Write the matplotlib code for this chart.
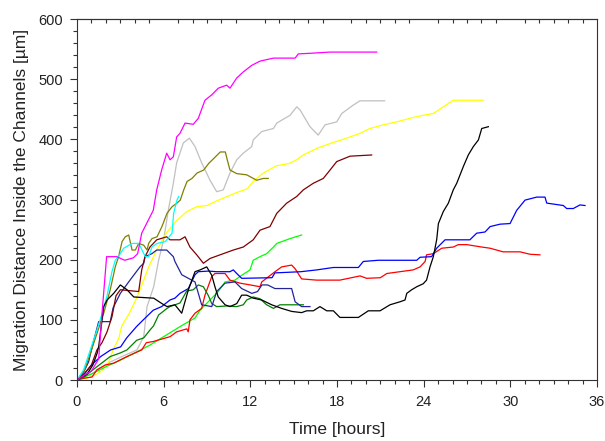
import matplotlib
matplotlib.use("Agg")
import matplotlib.pyplot as plt
from matplotlib.ticker import MultipleLocator, FixedLocator

plt.rcParams["font.family"] = ["Liberation Sans", "DejaVu Sans"]

# each track: time [h], distance [um]
magenta_t = [0, 0.5, 1.0, 1.5, 1.75, 2.05, 2.75, 3.3, 3.9, 4.2, 4.48, 5.28, 5.52, 5.86, 6.21, 6.44,
             6.67, 6.9, 7.13, 7.48, 8.05, 8.4, 8.86, 9.33, 9.78, 10.36, 10.59, 11.06, 11.51, 12.1,
             12.67, 13.6, 15.1, 15.32, 16.13, 17.5, 20.75]
magenta_v = [0, 8, 15, 35, 116, 205, 205, 199, 203, 210, 244, 282, 316, 349, 377, 366,
             371, 404, 410, 427, 425, 435, 465, 474, 485, 490, 485, 502, 512, 523,
             530, 535, 535, 542, 543, 545, 545]

silver_t = [0, 1.0, 2.3, 3.2, 4.15, 4.62, 4.85, 5.31, 5.65, 6.0, 6.32, 6.67, 6.9, 7.36, 7.78, 8.17,
            8.63, 9.21, 9.67, 10.13, 10.59, 11.06, 11.51, 12.1, 12.2, 12.79, 13.6, 13.83, 14.75,
            15.21, 15.44, 16.13, 16.7, 17.17, 17.98, 18.33, 19.13, 19.59, 21.3]
silver_v = [0, 10, 30, 40, 50, 72, 122, 155, 199, 233, 282, 327, 361, 394, 402, 388,
            361, 332, 313, 316, 344, 366, 377, 388, 399, 413, 418, 427, 440,
            454, 449, 421, 407, 424, 429, 443, 457, 464, 464]

yellow_t = [0, 1.0, 1.7, 2.2, 2.5, 2.9, 3.1, 3.6, 4.1, 4.6, 5.0, 5.5, 6.2, 6.9, 7.6, 8.3, 9.0, 9.7,
            10.4, 11.1, 11.8, 12.2, 12.9, 13.8, 14.7, 15.2, 15.67, 16.6, 17.52, 18.67, 19.59, 20.28,
            21.2, 22.13, 23.05, 23.97, 24.67, 25.36, 26.05, 28.13]
yellow_v = [0, 5, 15, 30, 50, 70, 90, 110, 135, 165, 190, 215, 245, 265, 280, 288, 290, 298,
            305, 312, 318, 330, 344, 356, 360, 366, 374, 385, 393, 402, 410, 418,
            424, 429, 435, 440, 443, 454, 465, 465]

maroon_t = [0, 0.5, 1.0, 1.38, 1.73, 2.08, 2.42, 2.7, 3.0, 4.27, 4.48, 4.71, 5.05, 5.52, 6.21, 6.44,
            7.13, 7.48, 7.82, 8.29, 8.75, 9.21, 9.9, 10.82, 11.51, 12.2, 12.67, 13.36, 13.83, 14.52,
            15.21, 15.67, 16.36, 17.05, 17.52, 17.98, 18.9, 20.4]
maroon_v = [0, 10, 25, 50, 62, 80, 105, 140, 150, 147, 183, 205, 221, 233, 238, 233,
            233, 238, 221, 208, 194, 202, 208, 216, 221, 233, 249, 255, 277, 294,
            305, 316, 327, 335, 349, 363, 372, 374]

olive_t = [0, 0.5, 0.92, 1.85, 2.3, 2.65, 2.88, 3.12, 3.34, 3.58, 3.81, 4.04, 4.27, 4.62, 4.85,
           4.96, 5.19, 5.54, 5.88, 6.23, 6.58, 6.92, 7.15, 7.39, 7.62, 7.96, 8.31, 8.77, 9.12,
           9.46, 9.92, 10.27, 10.38, 10.59, 11.06, 11.75, 12.44, 12.9, 13.24]
olive_v = [0, 15, 44, 111, 150, 188, 205, 230, 238, 241, 216, 216, 227, 224, 216,
           227, 235, 238, 255, 277, 288, 294, 299, 316, 330, 335, 344, 349, 360,
           368, 379, 379, 368, 349, 343, 341, 332, 335, 335]

cyan_t = [0, 0.46, 0.92, 1.38, 1.73, 2.08, 2.42, 2.65, 3.0, 3.23, 3.81, 4.27, 4.5, 4.73, 4.96,
          5.19, 5.54, 6.11, 6.58, 6.69, 6.92, 7.04]
cyan_v = [0, 17, 50, 83, 110, 140, 180, 199, 210, 219, 227, 227, 216, 205, 205,
          221, 227, 230, 244, 277, 299, 305]

lime_t = [0, 1.0, 2.0, 3.0, 4.0, 5.05, 6.2, 7.36, 8.17, 8.52, 9.21, 9.78, 10.25, 10.94, 11.28,
          11.98, 12.2, 12.67, 13.13, 13.6, 13.83, 14.75, 15.55]
lime_v = [0, 10, 22, 33, 45, 58, 75, 92, 103, 116, 133, 147, 163, 166, 172,
          183, 199, 205, 210, 221, 227, 235, 241]

red_t = [0, 0.5, 1.04, 1.38, 1.96, 2.54, 3.46, 4.48, 4.8, 5.28, 6.44, 6.9, 7.6, 7.7, 7.82, 8.17,
         8.63, 8.86, 9.33, 9.55, 10.25, 10.59, 11.28, 12.0, 12.67, 12.79, 13.71, 14.17, 14.86,
         15.1, 15.55, 16.6, 18.2, 19.6, 20.05, 21.0, 21.45, 22.36, 23.28, 23.75, 24.1, 24.2,
         24.67, 25.25, 26.05, 26.4, 26.98, 28.02, 28.6, 29.5, 30.67, 31.36, 32.05]
red_v = [0, 3, 5, 17, 25, 28, 39, 50, 62, 64, 72, 80, 85, 80, 100, 111,
         119, 141, 172, 177, 177, 166, 161, 158, 155, 163, 180, 188, 191,
         185, 168, 166, 166, 173, 169, 170, 177, 180, 183, 188, 197, 208,
         210, 219, 221, 225, 225, 221, 219, 213, 213, 209, 208]

blue_t = [0, 0.5, 1.0, 1.64, 2.33, 3.02, 3.44, 4.13, 4.59, 5.28, 5.86, 6.44, 6.78, 7.13, 7.71,
          8.17, 8.4, 9.09, 9.67, 10.59, 10.82, 11.06, 11.4, 13.5, 13.7, 15.5, 16.6, 17.75, 19.48,
          19.82, 20.86, 23.52, 23.75, 24.55, 24.9, 25.48, 27.2, 27.67, 28.25, 28.6, 29.29, 29.98,
          30.44, 31.02, 31.83, 32.4, 32.52, 33.67, 33.9, 34.36, 34.82, 35.17]
blue_v = [0, 10, 25, 39, 50, 55, 70, 89, 100, 116, 122, 133, 136, 144, 152,
          175, 180, 181, 180, 180, 183, 177, 169, 170, 178, 180, 183, 187, 187,
          197, 199, 199, 204, 205, 219, 233, 233, 244, 246, 255, 259, 260,
          282, 299, 304, 304, 294, 290, 285, 285, 291, 290]

navy_t = [0, 0.4, 0.8, 1.1, 1.5, 2.3, 2.5, 3.0, 3.67, 4.36, 4.62, 4.71, 5.19, 5.52, 6.21, 6.67,
          6.78, 7.25, 8.17, 8.63, 9.33, 9.67, 10.25, 10.94, 11.4, 12.1, 12.5, 12.8, 13.2, 13.7,
          14.86, 15.1, 15.55, 16.13]
navy_v = [0, 10, 30, 60, 97, 97, 120, 144, 166, 188, 194, 205, 210, 216, 216, 205,
          197, 175, 163, 125, 122, 147, 161, 163, 152, 144, 147, 158, 158, 152,
          152, 130, 122, 122]

dkgreen_t = [0, 0.5, 1.0, 2.3, 3.0, 3.46, 4.13, 4.62, 5.05, 5.3, 5.65, 6.23, 6.44, 7.13, 7.6,
             8.05, 8.4, 8.75, 9.1, 9.33, 9.67, 10.36, 11.06, 11.51, 11.75, 12.2, 12.67, 13.13,
             13.6, 14.05, 15.67]
dkgreen_v = [0, 5, 15, 39, 45, 50, 66, 70, 83, 90, 108, 119, 122, 128, 148,
             150, 158, 155, 140, 127, 122, 123, 122, 125, 133, 138, 135, 125,
             119, 125, 125]

black_t = [0, 0.7, 1.1, 1.4, 1.5, 1.85, 2.08, 2.54, 3.0, 3.46, 3.93, 5.31, 5.88, 6.23, 6.78, 7.25,
           7.71, 8.17, 8.52, 8.98, 9.33, 9.55, 9.78, 10.25, 10.59, 11.06, 11.4, 11.75, 12.2, 12.79,
           13.48, 14.17, 14.86, 15.55, 15.9, 16.36, 16.82, 17.29, 17.75, 18.2, 19.48, 20.17, 20.98,
           21.67, 22.36, 22.71, 22.83, 23.17, 23.52, 23.97, 24.2, 24.44, 24.67, 24.9, 25.02, 25.36,
           25.71, 26.05, 26.29, 26.75, 27.09, 27.44, 27.79, 28.02, 28.48]
black_v = [0, 10, 25, 45, 55, 122, 133, 144, 158, 150, 138, 136, 127, 122, 125, 111,
           150, 180, 183, 188, 174, 155, 138, 125, 122, 127, 141, 141, 136, 133,
           125, 119, 114, 112, 115, 115, 122, 115, 115, 104, 104, 115, 115,
           125, 130, 133, 144, 150, 155, 160, 166, 188, 205, 233, 260, 280,
           294, 316, 327, 355, 374, 388, 399, 418, 421]

tracks = [
    (silver_t, silver_v, "#c0c0c0"),
    (yellow_t, yellow_v, "#ffff00"),
    (lime_t, lime_v, "#00ff00"),
    (red_t, red_v, "#ff0000"),
    (blue_t, blue_v, "#0000ff"),
    (dkgreen_t, dkgreen_v, "#008000"),
    (navy_t, navy_v, "#24249a"),
    (maroon_t, maroon_v, "#800000"),
    (olive_t, olive_v, "#808000"),
    (cyan_t, cyan_v, "#00ffff"),
    (black_t, black_v, "#000000"),
    (magenta_t, magenta_v, "#ff00ff"),
]

fig = plt.figure(figsize=(6.05, 4.41), dpi=100)
ax = fig.add_axes([77 / 605, 61 / 441, 520 / 605, 361 / 441])

for t, v, c in tracks:
    ax.plot(t, v, color=c, lw=0.9)

ax.set_xlim(0, 36)
ax.set_ylim(0, 600)
ax.xaxis.set_major_locator(MultipleLocator(6))
ax.xaxis.set_minor_locator(MultipleLocator(1))
ax.yaxis.set_major_locator(MultipleLocator(100))
ax.yaxis.set_minor_locator(MultipleLocator(20))
ax.tick_params(which="major", direction="out", length=5, width=0.8, colors="#333333",
               labelsize=10.5, labelcolor="#222222")
ax.tick_params(which="minor", direction="out", length=3, width=0.8, colors="#333333")
ax.tick_params(axis="x", which="major", pad=6)
ax.tick_params(axis="y", which="major", pad=5)

# top edge carries only small inward ticks
top = ax.secondary_xaxis("top")
top.set_xticks([])
top.xaxis.set_minor_locator(FixedLocator([h for h in range(1, 36) if h % 6]))
top.tick_params(which="minor", direction="in", length=3, width=0.8, colors="#333333")
top.spines["top"].set_color("#333333")

for s in ax.spines.values():
    s.set_color("#333333")
    s.set_linewidth(0.8)

ax.set_xlabel("Time [hours]", fontsize=12.5, color="#222222", labelpad=9)
ax.set_ylabel("Migration Distance Inside the Channels [\u00b5m]", fontsize=12.5,
              color="#222222", labelpad=7)

fig.savefig("out.png", dpi=100)
